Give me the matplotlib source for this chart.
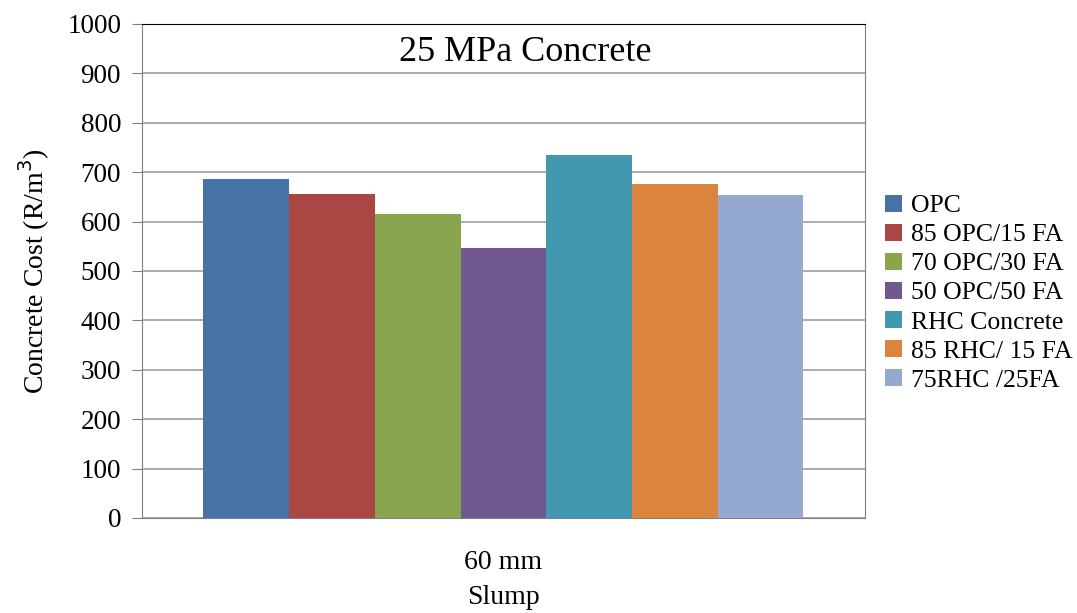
import numpy as np
import matplotlib
matplotlib.use("Agg")
import matplotlib.pyplot as plt

# values (R/m3)
series = ["OPC", "85 OPC/15 FA", "70 OPC/30 FA", "50 OPC/50 FA",
          "RHC Concrete", "85 RHC/ 15 FA", "75RHC /25FA"]
costs = [687, 655, 615, 547, 735, 675, 653]
category = ["60 mm"]
colors = ["#4572A7", "#AA4643", "#89A54E", "#71588F",
          "#4198AF", "#DB843D", "#93A9CF"]

plt.rcParams["font.family"] = ["Liberation Serif", "DejaVu Serif"]

fig = plt.figure(figsize=(10.77, 6.13), dpi=100)
ax = fig.add_axes([0.1318, 0.155, 0.803 - 0.1318, 0.961 - 0.155])

n = len(series)
width = 0.83 / n
offsets = (np.arange(n) - (n - 1) / 2.0) * width
for i in range(n):
    ax.bar(offsets[i], costs[i], width, color=colors[i], label=series[i],
           zorder=3)

ax.set_xlim(-0.5, 0.5)
ax.set_ylim(0, 1000)
ax.set_yticks(np.arange(0, 1001, 100))
ax.set_xticks([0])
ax.set_xticklabels(category)
ax.tick_params(axis="x", length=0, labelsize=20, pad=23)
ax.tick_params(axis="y", length=7, color="#808080", labelsize=19.5, pad=8)
ax.yaxis.grid(True, color="#A6A6A6", linewidth=1.3, zorder=0)
ax.set_axisbelow(True)
for s in ["left", "right", "bottom"]:
    ax.spines[s].set_color("#808080")
ax.spines["top"].set_color("black")

ax.set_ylabel("Concrete Cost (R/m$^3$)", fontsize=20, labelpad=11)
ax.set_xlabel("Slump", fontsize=20, labelpad=7)
ax.text(0.53, 0.975, "25 MPa Concrete", transform=ax.transAxes,
        ha="center", va="top", fontsize=26)

ax.legend(loc="center left", bbox_to_anchor=(1.0, 0.455), frameon=False,
          fontsize=18.5, handlelength=0.65, handleheight=0.65,
          handletextpad=0.35, labelspacing=0.25, borderaxespad=0.4)

plt.savefig("out.png", dpi=100)
